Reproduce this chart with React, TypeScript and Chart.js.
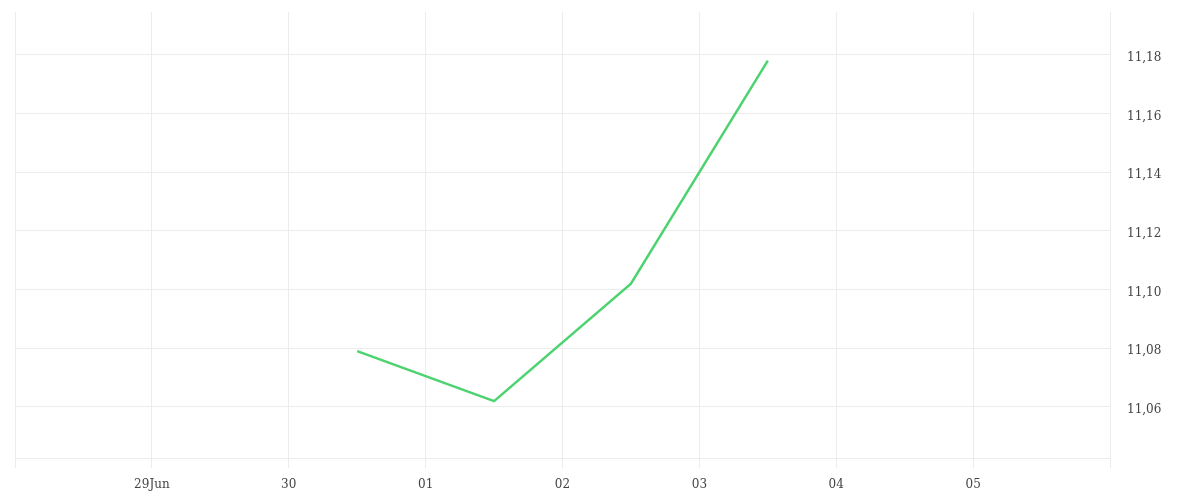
import { useEffect, useRef } from "react"
import { Chart, registerables } from "chart.js"

Chart.register(...registerables)

// x positions in days from 28 Jun 00:00 (points sit at midday)
const dayLabels = ["", "29Jun", "30", "01", "02", "03", "04", "05", ""]
const pointDays = [2.5, 3.5, 4.5, 5.5]
const pointValues = [11.079, 11.062, 11.102, 11.178]
const yTicks = [11.06, 11.08, 11.1, 11.12, 11.14, 11.16, 11.18]

export default function App() {
  const chartRef = useRef<HTMLCanvasElement>(null)
  const chartInstance = useRef<Chart | null>(null)

  useEffect(() => {
    document.body.style.margin = "0"
    if (chartRef.current) {
      const ctx = chartRef.current.getContext("2d")
      if (ctx) {
        if (chartInstance.current) {
          chartInstance.current.destroy()
        }

        const font = { family: "'DejaVu Serif', serif", size: 12 }

        chartInstance.current = new Chart(ctx, {
          type: "line",
          data: {
            datasets: [
              {
                data: pointDays.map((d, i) => ({ x: d, y: pointValues[i] })),
                borderColor: "#4cd36f",
                borderWidth: 2.5,
                pointRadius: 0,
                tension: 0,
                fill: false,
              },
            ],
          },
          options: {
            animation: false,
            responsive: true,
            maintainAspectRatio: false,
            layout: { padding: { left: 15, top: 12, right: 0, bottom: 0 } },
            plugins: {
              legend: { display: false },
              tooltip: { enabled: false },
            },
            scales: {
              x: {
                type: "linear",
                min: 0,
                max: 8,
                afterBuildTicks: (scale) => {
                  scale.ticks = dayLabels.map((_, i) => ({ value: i }))
                },
                afterFit: (scale) => {
                  scale.height = 42
                  scale.paddingLeft = 0
                  scale.paddingRight = 0
                },
                grid: {
                  color: "#ececec",
                  tickLength: 10,
                },
                border: { color: "#ececec" },
                ticks: {
                  font,
                  color: "#444",
                  padding: 10,
                  maxRotation: 0,
                  autoSkip: false,
                  callback: (value) => dayLabels[Number(value)] ?? "",
                },
              },
              y: {
                position: "right",
                min: 11.0426,
                max: 11.1946,
                afterBuildTicks: (scale) => {
                  scale.ticks = yTicks.map((v) => ({ value: v }))
                },
                afterFit: (scale) => {
                  scale.width = 90
                  scale.paddingTop = 0
                  scale.paddingBottom = 0
                },
                grid: {
                  color: "#ececec",
                  drawTicks: false,
                },
                border: { color: "#ececec" },
                ticks: {
                  font,
                  color: "#444",
                  padding: 17,
                  labelOffset: 3,
                  callback: (value) => Number(value).toFixed(2).replace(".", ","),
                },
              },
            },
          },
        })
      }
    }

    return () => {
      if (chartInstance.current) {
        chartInstance.current.destroy()
        chartInstance.current = null
      }
    }
  }, [])

  return (
    <div style={{ width: "1200px", height: "500px", position: "relative" }}>
      <canvas ref={chartRef}></canvas>
    </div>
  )
}
